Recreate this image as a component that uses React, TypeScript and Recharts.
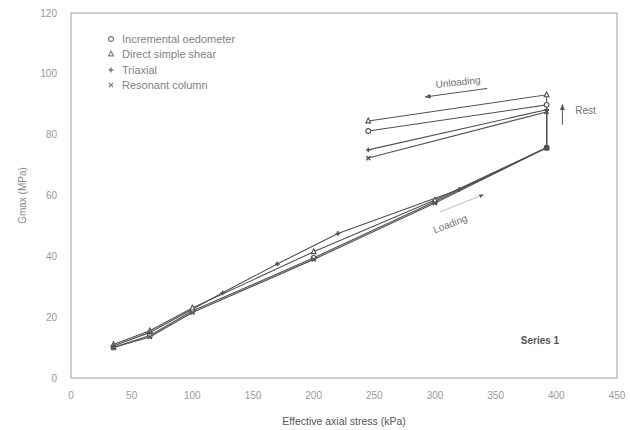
import {
  ComposedChart,
  Line,
  XAxis,
  YAxis,
  Legend,
  ReferenceLine,
  ReferenceDot,
} from 'recharts';

type Pt = { x: number; y: number };
type Shape = 'circle' | 'triangle' | 'plus' | 'cross';

// stress (kPa) / Gmax (MPa), in test order: loading, rest, unloading
const OEDOMETER: Pt[] = [
  { x: 35, y: 10 },
  { x: 65, y: 14 },
  { x: 100, y: 22 },
  { x: 200, y: 39.5 },
  { x: 300, y: 58 },
  { x: 392, y: 75.7 },
  { x: 392, y: 89.8 },
  { x: 245, y: 81.2 },
];
const SIMPLE_SHEAR: Pt[] = [
  { x: 35, y: 11 },
  { x: 65, y: 15.5 },
  { x: 100, y: 23 },
  { x: 200, y: 41.5 },
  { x: 300, y: 58.5 },
  { x: 392, y: 75.7 },
  { x: 392, y: 93.1 },
  { x: 245, y: 84.5 },
];
const TRIAXIAL: Pt[] = [
  { x: 35, y: 10.5 },
  { x: 65, y: 15 },
  { x: 125, y: 28 },
  { x: 170, y: 37.5 },
  { x: 220, y: 47.5 },
  { x: 320, y: 62 },
  { x: 392, y: 75.7 },
  { x: 392, y: 88.2 },
  { x: 245, y: 75 },
];
const RESONANT: Pt[] = [
  { x: 35, y: 10 },
  { x: 65, y: 13.5 },
  { x: 100, y: 21.5 },
  { x: 200, y: 39 },
  { x: 300, y: 57.5 },
  { x: 392, y: 75.7 },
  { x: 392, y: 87.5 },
  { x: 245, y: 72.3 },
];

const SERIES: { name: string; data: Pt[]; shape: Shape }[] = [
  { name: 'Incremental oedometer', data: OEDOMETER, shape: 'circle' },
  { name: 'Direct simple shear', data: SIMPLE_SHEAR, shape: 'triangle' },
  { name: 'Triaxial', data: TRIAXIAL, shape: 'plus' },
  { name: 'Resonant column', data: RESONANT, shape: 'cross' },
];

const X_TICKS = [0, 50, 100, 150, 200, 250, 300, 350, 400, 450];
const Y_TICKS = [0, 20, 40, 60, 80, 100, 120];

const FONT = '"Liberation Sans", Arial, sans-serif';
const INK = '#505050';
const AXIS = '#9a9a9a';

function Marker({ shape, cx, cy, color = INK }: { shape: Shape; cx: number; cy: number; color?: string }) {
  const s = 2.4;
  switch (shape) {
    case 'circle':
      return <circle cx={cx} cy={cy} r={s} fill="#fff" stroke={color} strokeWidth={1.1} />;
    case 'triangle':
      return (
        <polygon
          points={`${cx},${cy - s - 0.5} ${cx + s},${cy + s - 0.5} ${cx - s},${cy + s - 0.5}`}
          fill="#fff"
          stroke={color}
          strokeWidth={1.1}
        />
      );
    case 'plus':
      return (
        <path
          d={`M${cx - s},${cy}H${cx + s}M${cx},${cy - s}V${cy + s}`}
          stroke={color}
          strokeWidth={1.4}
        />
      );
    default:
      return (
        <path
          d={`M${cx - s + 0.3},${cy - s + 0.3}L${cx + s - 0.3},${cy + s - 0.3}M${cx - s + 0.3},${cy + s - 0.3}L${cx + s - 0.3},${cy - s + 0.3}`}
          stroke={color}
          strokeWidth={1.3}
        />
      );
  }
}

function LegendBox() {
  return (
    <div style={{ fontFamily: FONT, fontSize: 11, color: '#828282' }}>
      {SERIES.map((s) => (
        <div key={s.name} style={{ display: 'flex', alignItems: 'center', height: 15.5 }}>
          <svg width={14} height={10} style={{ marginRight: 2 }}>
            <Marker shape={s.shape} cx={5} cy={5} color="#7a7a7a" />
          </svg>
          <span>{s.name}</span>
        </div>
      ))}
    </div>
  );
}

const noteStyle = { fontFamily: FONT, fontSize: 10, fill: '#707070' };

export default function App() {
  return (
    <div style={{ position: 'absolute', left: 0, top: 0, background: '#fff' }}>
      <ComposedChart
        width={630}
        height={430}
        margin={{ top: 13, right: 13, bottom: 0, left: 0 }}
        style={{ fontFamily: FONT }}
      >
        <defs>
          <marker
            id="arrowHead"
            viewBox="0 0 10 10"
            refX="9"
            refY="5"
            markerWidth="6"
            markerHeight="6"
            orient="auto"
          >
            <path d="M0,1 L10,5 L0,9 z" fill="#555" />
          </marker>
        </defs>
        <XAxis
          type="number"
          dataKey="x"
          domain={[0, 450]}
          ticks={X_TICKS}
          height={52}
          stroke={AXIS}
          tickLine={false}
          tickSize={0}
          tickMargin={14}
          tick={{ fontSize: 10, fill: '#999' }}
          label={{
            value: 'Effective axial stress (kPa)',
            position: 'insideBottom',
            offset: 5,
            fontSize: 10.5,
            fill: '#555',
          }}
        />
        <YAxis
          type="number"
          dataKey="y"
          domain={[0, 120]}
          ticks={Y_TICKS}
          width={71}
          stroke={AXIS}
          tickLine={false}
          tickSize={0}
          tickMargin={14}
          tick={{ fontSize: 10, fill: '#999' }}
          label={{
            value: 'Gmax (MPa)',
            angle: -90,
            position: 'insideLeft',
            offset: 22,
            fontSize: 10,
            fill: '#8a8a8a',
            stroke: 'none',
            style: { textAnchor: 'middle' },
          }}
        />
        <ReferenceLine y={120} stroke={AXIS} strokeWidth={1} />
        <ReferenceLine x={450} stroke={AXIS} strokeWidth={1} />

        {SERIES.map((s) => (
          <Line
            key={s.name}
            name={s.name}
            data={s.data}
            dataKey="y"
            type="linear"
            stroke={INK}
            strokeWidth={1.1}
            isAnimationActive={false}
            activeDot={false}
            dot={(p: any) => (
              <Marker key={`${s.name}-${p.index}`} shape={s.shape} cx={p.cx} cy={p.cy} />
            )}
          />
        ))}

        {/* annotations */}
        <ReferenceLine
          segment={[
            { x: 343, y: 95.2 },
            { x: 292, y: 92.4 },
          ]}
          stroke="#555"
          strokeWidth={1}
          markerEnd="url(#arrowHead)"
        />
        <ReferenceDot
          x={319}
          y={97.3}
          r={0}
          stroke="none"
          label={{ value: 'Unloading', position: 'center', angle: -6, ...noteStyle }}
        />
        <ReferenceLine
          segment={[
            { x: 405, y: 83.3 },
            { x: 405, y: 89.9 },
          ]}
          stroke="#555"
          strokeWidth={1}
          markerEnd="url(#arrowHead)"
        />
        <ReferenceDot
          x={424}
          y={87.8}
          r={0}
          stroke="none"
          label={{ value: 'Rest', position: 'center', ...noteStyle }}
        />
        <ReferenceLine
          segment={[
            { x: 304, y: 54.6 },
            { x: 340, y: 60.3 },
          ]}
          stroke="#aaa"
          strokeWidth={0.8}
          markerEnd="url(#arrowHead)"
        />
        <ReferenceDot
          x={312.5}
          y={50.7}
          r={0}
          stroke="none"
          label={{ value: 'Loading', position: 'center', angle: -21, ...noteStyle }}
        />
        <ReferenceDot
          x={386.5}
          y={12.5}
          r={0}
          stroke="none"
          label={{
            value: 'Series 1',
            position: 'center',
            fontFamily: FONT,
            fontSize: 10,
            fontWeight: 'bold',
            fill: '#555',
          }}
        />

        <Legend
          layout="vertical"
          align="center"
          verticalAlign="middle"
          content={() => <LegendBox />}
          wrapperStyle={{ top: 31, left: 106, width: 200 }}
        />
      </ComposedChart>
    </div>
  );
}
